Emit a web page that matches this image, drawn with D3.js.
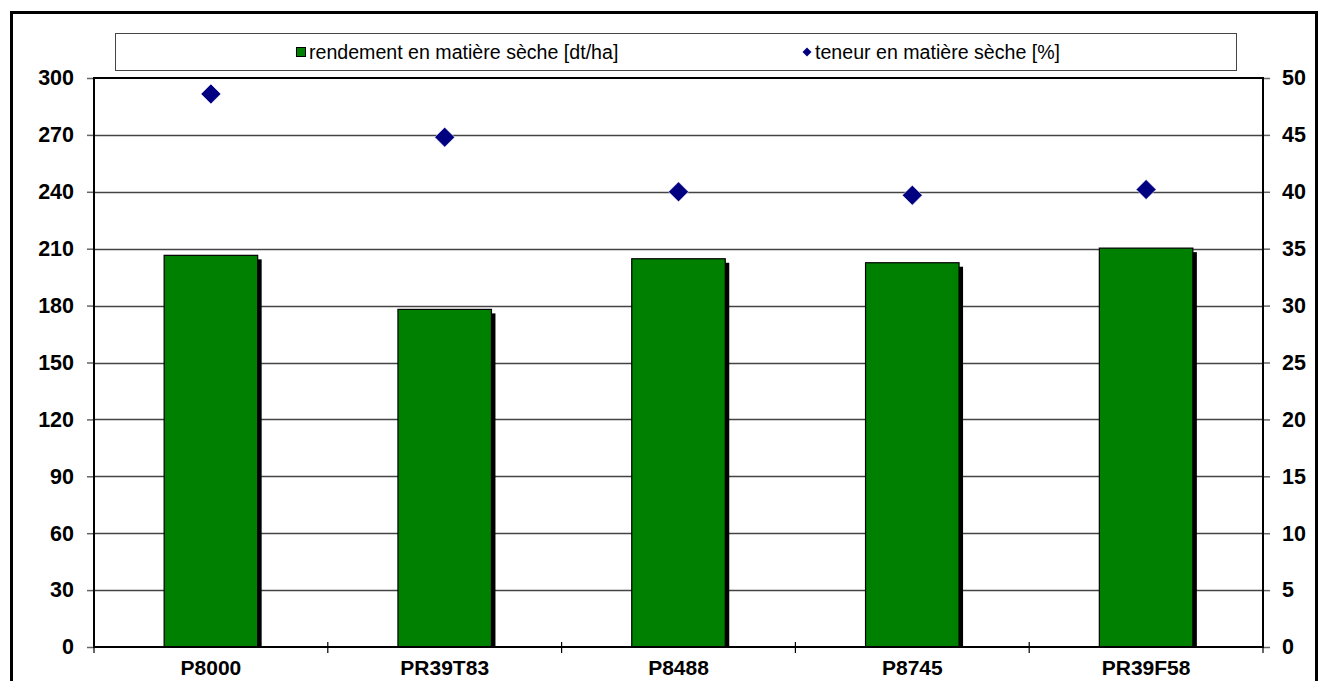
<!DOCTYPE html>
<html><head><meta charset="utf-8">
<script src="https://cdn.jsdelivr.net/npm/d3@7"></script>
<style>body{margin:0;background:#fff}svg{display:block}text{font-family:Arial,"Liberation Sans",sans-serif}</style>
</head><body><svg id="c" width="1319" height="681"></svg>
<script>
const categories = ["P8000", "PR39T83", "P8488", "P8745", "PR39F58"];
const yieldValues = [206.5, 178.0, 204.7, 202.6, 210.3];
const dryMatter = [48.6, 44.8, 40.0, 39.7, 40.2];
const leftTicks = [0, 30, 60, 90, 120, 150, 180, 210, 240, 270, 300];
const rightTicks = [0, 5, 10, 15, 20, 25, 30, 35, 40, 45, 50];
const seriesNames = ["rendement en matière sèche [dt/ha]", "teneur en matière sèche [%]"];

const svg = d3.select("#c");
const L = 94, R = 1263, T = 78, B = 647;
const FONT = "Arial, 'Liberation Sans', sans-serif";

const x = d3.scaleBand().domain(categories).range([L, R]).paddingInner(0).paddingOuter(0);
const yL = d3.scaleLinear().domain([0, 300]).range([B, T]);
const yR = d3.scaleLinear().domain([0, 50]).range([B, T]);

// outer frame
svg.append("rect").attr("x", 11.5).attr("y", 12.5).attr("width", 1305).attr("height", 720)
  .attr("fill", "none").attr("stroke", "#000").attr("stroke-width", 3);

// legend
svg.append("rect").attr("x", 115.5).attr("y", 33.5).attr("width", 1121).attr("height", 37)
  .attr("fill", "#fff").attr("stroke", "#444").attr("stroke-width", 1);
svg.append("rect").attr("x", 296.5).attr("y", 47.5).attr("width", 9).attr("height", 9)
  .attr("fill", "#008000").attr("stroke", "#000").attr("stroke-width", 1);
svg.append("text").attr("x", 309).attr("y", 52).attr("dy", "0.35em")
  .attr("font-size", 19.6).text(seriesNames[0]);
const dia = r => `M0,${-r}L${r},0L0,${r}L${-r},0Z`;
svg.append("path").attr("d", dia(4.5)).attr("transform", "translate(807,52)").attr("fill", "#000080");
svg.append("text").attr("x", 815).attr("y", 52).attr("dy", "0.35em")
  .attr("font-size", 19.6).text(seriesNames[1]);

// gridlines
svg.append("g").selectAll("line").data(leftTicks.filter(d => d > 0 && d < 300)).join("line")
  .attr("x1", L).attr("x2", R)
  .attr("y1", d => Math.round(yL(d)) + 0.5).attr("y2", d => Math.round(yL(d)) + 0.5)
  .attr("stroke", "#444").attr("stroke-width", 1.4);

// left axis
const gL = svg.append("g").attr("transform", `translate(${L},0)`)
  .call(d3.axisLeft(yL).tickValues(leftTicks).tickSize(7).tickPadding(13).tickFormat(d3.format("d")));
gL.select(".domain").remove();
gL.selectAll("line").attr("stroke", "#666").attr("stroke-width", 1.5);
gL.selectAll("text").attr("font-size", 21.5).attr("font-weight", "bold").attr("fill", "#000")
  .style("font-family", FONT);

// right axis
const gR = svg.append("g").attr("transform", `translate(${R},0)`)
  .call(d3.axisRight(yR).tickValues(rightTicks).tickSize(7).tickPadding(12).tickFormat(d3.format("d")));
gR.select(".domain").remove();
gR.selectAll("line").attr("stroke", "#666").attr("stroke-width", 1.5);
gR.selectAll("text").attr("font-size", 21.5).attr("font-weight", "bold").attr("fill", "#000")
  .style("font-family", FONT);

// bars with shadow
const bw = x.bandwidth() * 0.4;
const bars = svg.append("g");
bars.selectAll("rect.sh").data(categories).join("rect").attr("class", "sh")
  .attr("x", (d) => x(d) + x.bandwidth() / 2 - bw / 2 + 4)
  .attr("y", (d, i) => yL(yieldValues[i]) + 4)
  .attr("width", bw)
  .attr("height", (d, i) => B - yL(yieldValues[i]) - 4)
  .attr("fill", "#000");
bars.selectAll("rect.bar").data(categories).join("rect").attr("class", "bar")
  .attr("x", (d) => x(d) + x.bandwidth() / 2 - bw / 2)
  .attr("y", (d, i) => yL(yieldValues[i]))
  .attr("width", bw)
  .attr("height", (d, i) => B - yL(yieldValues[i]))
  .attr("fill", "#008000").attr("stroke", "#000").attr("stroke-width", 1.2);

// plot border
svg.append("rect").attr("x", L).attr("y", T).attr("width", R - L).attr("height", B - T)
  .attr("fill", "none").attr("stroke", "#000").attr("stroke-width", 2);

// x axis
const gX = svg.append("g").attr("transform", `translate(0,${B})`)
  .call(d3.axisBottom(x).tickSize(0).tickPadding(13));
gX.select(".domain").remove();
gX.selectAll("text").attr("font-size", 21).attr("font-weight", "bold").attr("fill", "#000")
  .style("font-family", FONT);
const bounds = categories.map(c => x(c)).concat([R]);
svg.append("g").selectAll("line").data(bounds).join("line")
  .attr("x1", d => d).attr("x2", d => d).attr("y1", B - 5).attr("y2", B + 6)
  .attr("stroke", "#000").attr("stroke-width", 1.2);

// diamonds
svg.append("g").selectAll("path").data(categories).join("path")
  .attr("d", dia(10))
  .attr("transform", (d, i) => `translate(${x(d) + x.bandwidth() / 2},${yR(dryMatter[i])})`)
  .attr("fill", "#000080").attr("stroke", "#fff").attr("stroke-width", 0.6);
</script></body></html>
